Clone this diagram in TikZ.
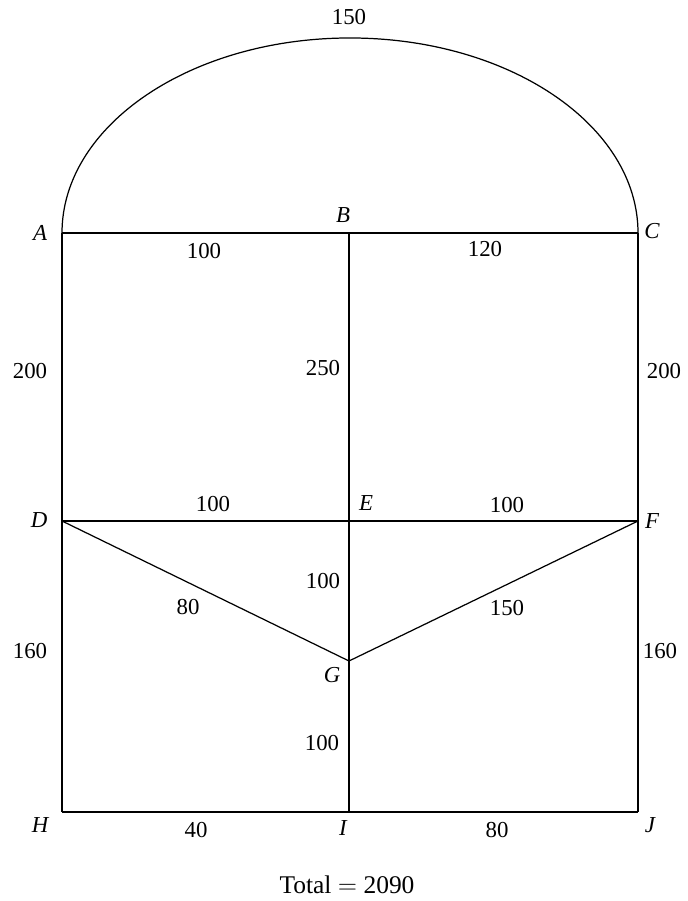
\documentclass[tikz,border=0pt]{standalone}
\usepackage{fontspec}
\setmainfont{Liberation Serif}
\usetikzlibrary{positioning,calc}
\tikzset{every picture/.style={line width=0.7pt}}
\tikzset{
    edge/.style={draw, line width=0.7pt},
    vlabel/.style={font=\fontsize{13}{15}\selectfont\itshape, inner sep=0pt},
    wlabel/.style={font=\fontsize{13}{15}\selectfont, inner sep=0pt}
}

\begin{document}
\begin{tikzpicture}[x=0.02cm, y=0.02cm]
    \useasboundingbox (0,0) rectangle (687,901);

    % vertices
    \coordinate (A) at (62,668);
    \coordinate (B) at (349,668);
    \coordinate (C) at (638,668);
    \coordinate (D) at (62,380);
    \coordinate (E) at (349,380);
    \coordinate (F) at (638,380);
    \coordinate (G) at (349,240);
    \coordinate (H) at (62,89);
    \coordinate (I) at (349,89);
    \coordinate (J) at (638,89);

    % edges
    \draw[edge] (A) arc[start angle=180, end angle=0, x radius=288, y radius=195];
    \draw[edge] (A) -- (B);
    \draw[edge] (B) -- (C);
    \draw[edge] (A) -- (D);
    \draw[edge] (B) -- (E);
    \draw[edge] (C) -- (F);
    \draw[edge] (D) -- (E);
    \draw[edge] (E) -- (F);
    \draw[edge] (D) -- (G);
    \draw[edge] (E) -- (G);
    \draw[edge] (F) -- (G);
    \draw[edge] (D) -- (H);
    \draw[edge] (G) -- (I);
    \draw[edge] (F) -- (J);
    \draw[edge] (H) -- (I);
    \draw[edge] (I) -- (J);

    % vertex names
    \node[vlabel] (nA) at (40,668) {A};
    \node[vlabel] (nB) at (343,686) {B};
    \node[vlabel] (nC) at (652,670) {C};
    \node[vlabel] (nD) at (39,381) {D};
    \node[vlabel] (nE) at (366,398) {E};
    \node[vlabel] (nF) at (652,380) {F};
    \node[vlabel] (nG) at (332,226) {G};
    \node[vlabel] (nH) at (40,76) {H};
    \node[vlabel] (nI) at (343,73) {I};
    \node[vlabel] (nJ) at (650,76) {J};

    % weights
    \node[wlabel] (wAC) at (349,884) {150};
    \node[wlabel] (wAB) at (204,650) {100};
    \node[wlabel] (wBC) at (485,652) {120};
    \node[wlabel] (wAD) at (30,530) {200};
    \node[wlabel] (wBE) at (323,533) {250};
    \node[wlabel] (wCF) at (664,530) {200};
    \node[wlabel] (wDE) at (213,397) {100};
    \node[wlabel] (wEF) at (507,396) {100};
    \node[wlabel] (wEG) at (323,320) {100};
    \node[wlabel] (wDG) at (188,294) {80};
    \node[wlabel] (wFG) at (507,293) {150};
    \node[wlabel] (wDH) at (30,250) {160};
    \node[wlabel] (wFJ) at (660,250) {160};
    \node[wlabel] (wGI) at (322,158) {100};
    \node[wlabel] (wHI) at (196,71) {40};
    \node[wlabel] (wIJ) at (497,71) {80};

    \node[wlabel, font=\fontsize{14.5}{17}\selectfont] (total) at (347,16) {Total $=$ 2090};
\end{tikzpicture}
\end{document}
